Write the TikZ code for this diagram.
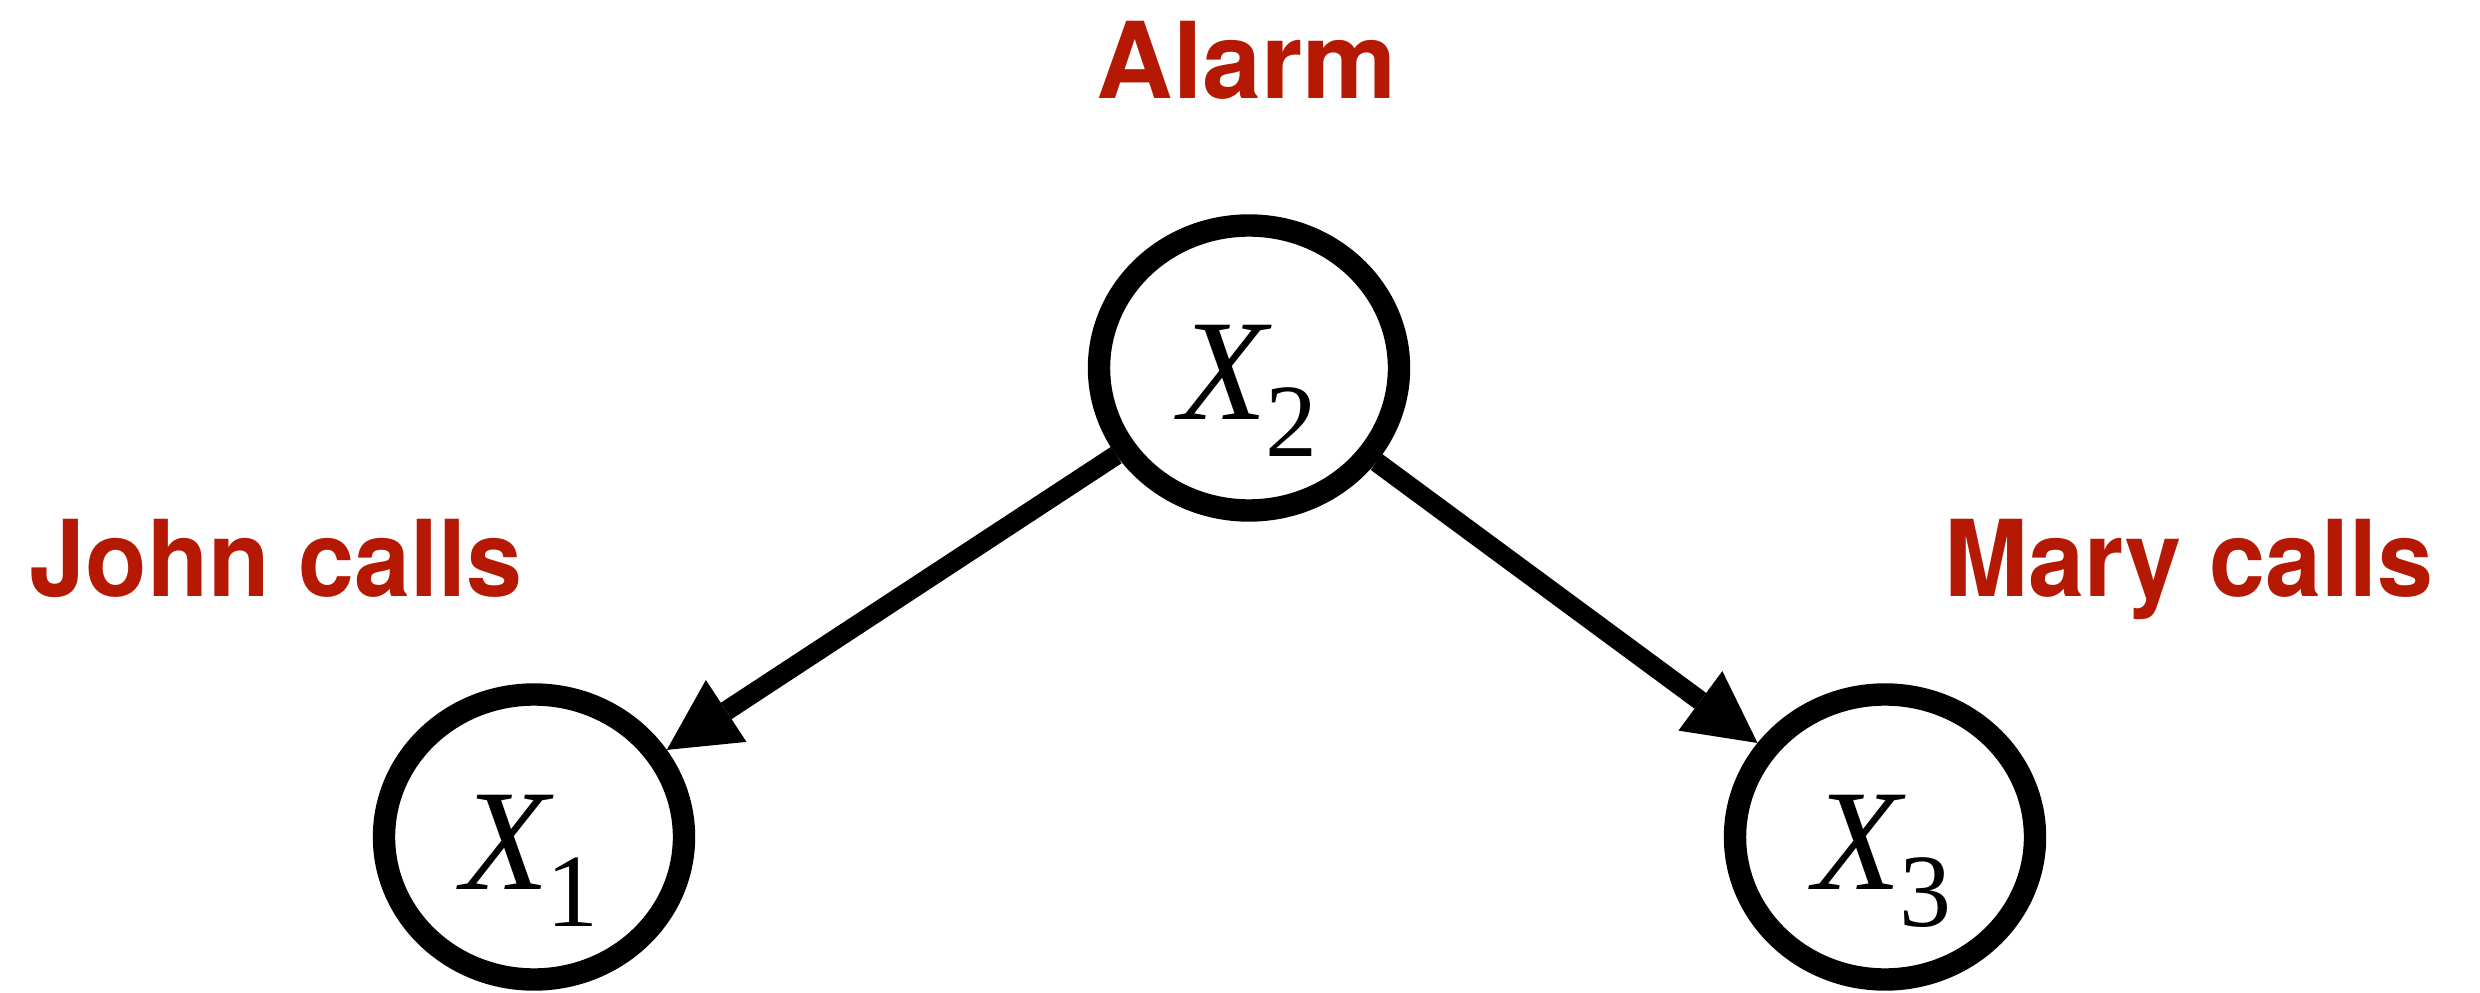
\documentclass[tikz,border=0pt]{standalone}
\usepackage{fontspec}
\usetikzlibrary{shapes.geometric,arrows.meta}
\newfontfamily\headfont{TeX Gyre Heros}
\newfontfamily\narrowhead{TeX Gyre Heros}[FakeStretch=0.95]
\newfontfamily\tms{Liberation Serif}
\definecolor{labelred}{RGB}{182,25,3}
% variable name X with an upright numeric subscript
\newcommand\xvar[1]{{\tms\fontsize{36pt}{36pt}\selectfont\itshape X}\kern-0.5pt\raisebox{-9.25pt}{\tms\fontsize{26pt}{26pt}\selectfont #1}}
\begin{document}
\begin{tikzpicture}[x=0.25pt,y=-0.25pt,
  varnode/.style={draw=black,line width=5.6pt,ellipse,fill=white,
    minimum width=75pt,minimum height=71.25pt,inner sep=0pt},
  varlabel/.style={anchor=base,inner sep=0pt},
  caption/.style={anchor=base,inner sep=0pt,text=labelred,
    font=\headfont\bfseries\fontsize{26.5pt}{26.5pt}\selectfont},
  widecaption/.style={caption,
    font=\narrowhead\bfseries\fontsize{26.5pt}{26.5pt}\selectfont},
  link/.style={line width=4.9pt,
    -{Triangle[length=17.75pt,width=18.5pt,line width=0pt]}}]
\useasboundingbox (0,0) rectangle (2480,993);

% network nodes
\node[varnode] (x2) at (1249,368) {};
\node[varnode] (x1) at (534,837) {};
\node[varnode] (x3) at (1885,837) {};

% variable names
\node[varlabel] (x2t) at (1248,420) {\xvar{2}};
\node[varlabel] (x1t) at (530,889) {\xvar{1}};
\node[varlabel] (x3t) at (1882,889) {\xvar{3}};

% captions
\node[caption] (alarm) at (1247,99) {Alarm};
\node[widecaption] (john) at (276,597) {John calls};
\node[widecaption] (mary) at (2189,597) {Mary calls};

% dependencies
\draw[link] (x2) -- (x1);
\draw[link] (x2) -- (x3);
\end{tikzpicture}
\end{document}
